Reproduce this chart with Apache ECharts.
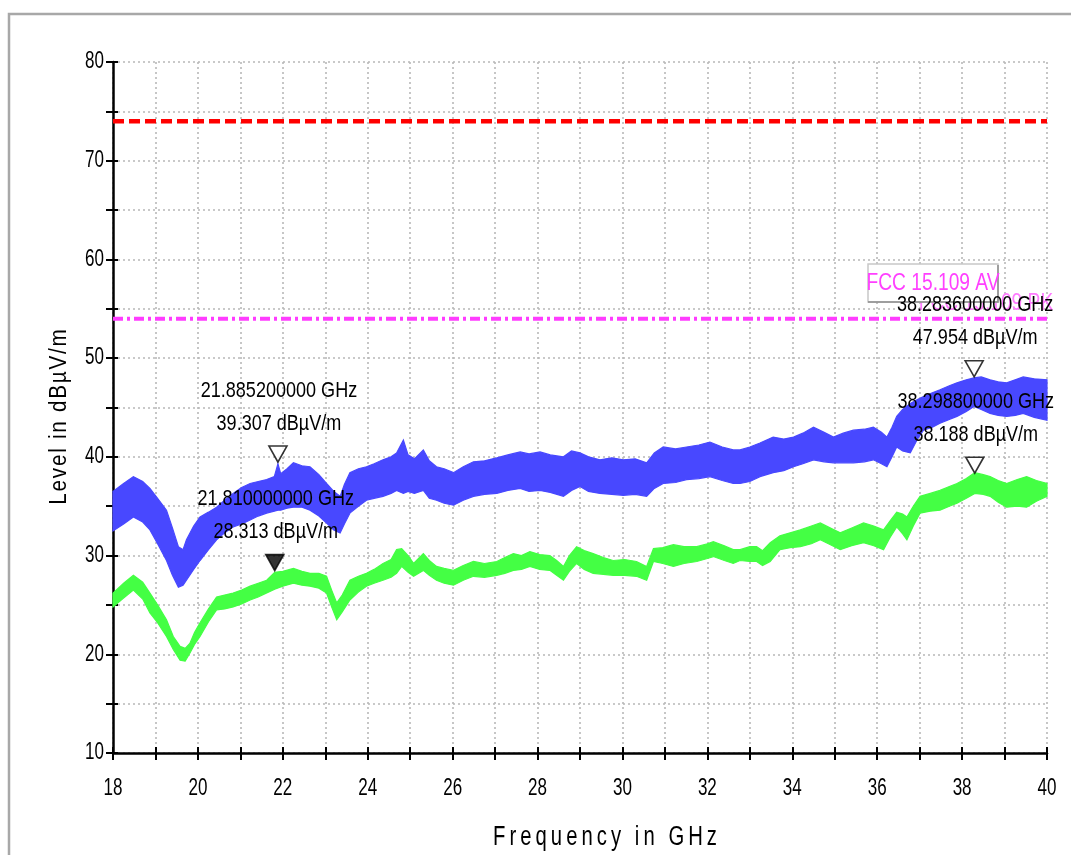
<!DOCTYPE html>
<html>
<head>
<meta charset="utf-8">
<script src="https://cdn.jsdelivr.net/npm/echarts@6/dist/echarts.min.js"></script>
<style>html,body{margin:0;padding:0;background:#fff;}#c{width:1071px;height:855px;}</style>
</head>
<body>
<div id="c"></div>
<script>
// ---- data ----
const blueFreq = [18.0,18.25,18.48,18.7,18.87,19.05,19.26,19.4,19.54,19.65,19.73,19.9,20.05,20.25,20.44,20.63,20.83,21.03,21.23,21.42,21.62,21.8,21.885,21.95,22.1,22.25,22.45,22.64,22.85,23.03,23.2,23.35,23.45,23.58,23.78,23.97,24.15,24.36,24.55,24.68,24.84,24.95,25.1,25.31,25.45,25.62,25.8,26.02,26.25,26.49,26.75,27.04,27.3,27.59,27.8,28.06,28.3,28.61,28.8,29.0,29.2,29.47,29.75,30.02,30.3,30.57,30.75,30.96,31.25,31.51,31.8,32.06,32.35,32.61,32.77,33.0,33.24,33.55,33.8,34.03,34.25,34.5,34.75,34.97,35.2,35.44,35.7,35.91,36.1,36.23,36.35,36.46,36.6,36.78,36.95,37.09,37.3,37.48,37.7,37.88,38.1,38.28,38.45,38.66,38.85,39.05,39.25,39.44,39.7,40.0];
const blueHigh = [36.5,37.3,38.0,37.5,36.8,35.8,34.6,32.8,30.9,30.6,31.6,33.0,33.9,34.4,34.9,35.6,36.3,36.9,37.3,37.5,37.7,38.0,39.3,38.3,38.8,39.4,39.1,39.0,38.2,37.3,36.5,36.0,37.2,38.4,38.8,39.0,39.3,39.7,40.0,40.4,41.7,40.2,39.8,40.7,39.6,39.0,38.8,38.4,39.0,39.5,39.6,39.9,40.2,40.5,40.3,40.5,40.2,40.0,40.6,40.4,40.0,39.7,39.9,39.7,39.8,39.4,40.4,41.0,40.8,41.0,41.2,41.5,41.0,40.7,40.7,41.0,41.4,42.0,41.8,42.0,42.4,43.0,42.5,42.0,42.4,42.7,42.8,43.0,42.5,42.0,43.0,44.1,44.8,45.4,45.8,46.1,46.5,46.8,47.2,47.5,47.8,48.0,48.1,47.8,47.6,47.5,47.8,48.1,47.9,47.8];
const blueLow = [32.5,33.2,33.9,33.4,32.6,31.2,29.5,28.0,26.8,27.0,27.5,28.6,29.5,30.6,31.6,32.3,32.9,33.2,33.6,34.0,34.3,34.5,34.6,34.6,34.8,34.9,34.9,34.6,34.0,33.3,32.6,32.3,33.2,34.3,35.0,35.6,35.8,36.0,36.3,36.6,36.3,36.5,36.3,36.6,35.8,35.6,35.3,35.1,35.6,36.0,36.2,36.3,36.6,36.8,36.5,36.6,36.4,36.0,36.6,37.0,36.5,36.3,36.2,36.1,36.2,36.0,36.8,37.3,37.4,37.7,37.8,38.0,37.6,37.3,37.3,37.5,38.0,38.4,38.6,39.0,39.3,39.7,39.5,39.4,39.4,39.4,39.5,39.7,39.3,39.0,40.0,41.0,40.6,40.4,41.8,42.7,43.0,43.4,43.8,44.1,44.6,45.1,44.8,44.4,44.2,44.1,44.2,44.4,44.0,43.7];

const greenFreq = [18.0,18.25,18.48,18.7,18.87,19.05,19.26,19.42,19.58,19.7,19.81,19.92,20.05,20.25,20.44,20.63,20.83,21.03,21.23,21.42,21.62,21.81,22.0,22.25,22.45,22.64,22.85,23.03,23.15,23.27,23.4,23.58,23.78,23.97,24.15,24.36,24.55,24.68,24.8,24.95,25.08,25.31,25.45,25.62,25.8,26.02,26.25,26.49,26.75,27.04,27.23,27.43,27.62,27.82,28.05,28.29,28.45,28.61,28.75,28.92,29.1,29.31,29.55,29.78,30.05,30.33,30.57,30.73,30.95,31.2,31.45,31.75,32.0,32.14,32.4,32.61,32.77,33.0,33.16,33.3,33.48,33.71,33.95,34.19,34.45,34.66,34.9,35.13,35.4,35.68,35.92,36.15,36.3,36.46,36.6,36.7,36.85,37.01,37.25,37.48,37.7,37.88,38.1,38.3,38.5,38.66,38.85,39.05,39.3,39.52,39.75,40.0];
const greenHigh = [26.2,27.2,28.0,27.3,26.2,25.0,23.5,21.8,20.8,20.6,21.1,22.2,23.2,24.6,25.8,26.0,26.2,26.5,26.9,27.2,27.5,28.3,28.4,28.7,28.4,28.2,28.2,27.9,26.5,25.2,26.0,27.5,27.9,28.2,28.6,29.2,29.6,30.6,30.7,30.0,29.2,30.2,29.5,28.9,28.7,28.5,29.0,29.4,29.2,29.4,29.8,30.2,30.0,30.4,30.1,30.0,29.5,28.9,30.0,30.9,30.5,30.2,29.8,29.5,29.6,29.4,28.9,30.7,30.8,31.1,30.9,30.9,31.2,31.4,31.0,30.6,30.6,30.9,30.9,30.5,31.3,32.0,32.3,32.6,33.0,33.3,32.8,32.3,32.8,33.3,33.0,32.6,33.5,34.4,34.2,33.9,35.0,36.0,36.3,36.6,37.0,37.3,37.8,38.4,38.2,38.0,37.6,37.3,37.7,38.0,37.6,37.3];
const greenLow = [24.8,25.7,26.5,25.6,24.2,23.2,21.8,20.5,19.4,19.3,20.1,21.0,21.8,23.3,24.5,24.6,24.8,25.1,25.5,25.8,26.2,26.6,26.9,27.2,27.0,26.9,26.7,26.2,24.8,23.5,24.3,25.5,26.3,26.9,27.2,27.5,27.8,28.2,28.9,28.3,27.9,28.5,28.0,27.5,27.2,27.0,27.5,27.9,27.8,28.0,28.2,28.5,28.6,28.9,28.6,28.5,28.0,27.5,28.4,29.2,28.6,28.2,28.1,28.0,28.0,27.9,27.5,29.4,29.2,28.9,29.2,29.4,29.7,29.9,29.5,29.2,29.5,29.4,29.4,29.0,29.4,30.6,30.8,30.9,31.2,31.6,31.1,30.6,31.0,31.3,31.0,30.6,31.8,32.9,32.2,31.6,33.0,34.3,34.5,34.6,35.0,35.3,35.8,36.3,36.2,36.0,35.4,34.9,35.0,34.9,35.5,36.0];

const limitPK = 74;   // FCC 15.109 PK
const limitAV = 54;   // FCC 15.109 AV
const limitFreq = [18, 40];

const markerFreq   = [21.8852, 21.81, 38.2836, 38.2988];
const markerLevel  = [39.307, 28.313, 47.954, 38.188];
const markerFilled = [false, true, false, false];
const markerText1  = ['21.885200000 GHz', '21.810000000 GHz', '38.283600000 GHz', '38.298800000 GHz'];
const markerText2  = ['39.307 dBµV/m', '28.313 dBµV/m', '47.954 dBµV/m', '38.188 dBµV/m'];

const xTicks = [18,20,22,24,26,28,30,32,34,36,38,40];
const yTicks = [10,20,30,40,50,60,70,80];
const xTitle = 'Frequency in GHz';
const yTitle = 'Level in dBµV/m';

// ---- chart ----
const FONT = '"Liberation Sans",Arial,sans-serif';
const chart = echarts.init(document.getElementById('c'), null, {renderer: 'canvas'});

function band(name, f, hi, lo, color) {
  return {
    type: 'custom', name: name, coordinateSystem: 'cartesian2d', silent: true, z: 2,
    data: f.map((x, i) => [x, hi[i], lo[i]]),
    encode: {x: 0, y: [1, 2]},
    renderItem: function (params, api) {
      if (params.dataIndex !== 0) return null;
      const pts = [];
      for (let i = 0; i < f.length; i++) pts.push(api.coord([f[i], hi[i]]));
      for (let i = f.length - 1; i >= 0; i--) pts.push(api.coord([f[i], lo[i]]));
      return {type: 'polygon', shape: {points: pts}, style: {fill: color, stroke: color, lineWidth: 1.2}};
    }
  };
}

function spaced(s, sep) { return s.split('').join(sep); }

const markerSeries = markerFreq.map((f, i) => ({
  type: 'scatter', z: 10, silent: true,
  data: [[f, markerLevel[i]]],
  symbol: 'triangle', symbolRotate: 180, symbolSize: [18, 16], symbolOffset: [0, '-60%'],
  itemStyle: {color: markerFilled[i] ? '#000' : '#fff', borderColor: '#000', borderWidth: 1.6}
}));

const option = {
  animation: false,
  backgroundColor: '#fff',
  grid: {left: 113, right: 24, top: 62, bottom: 102, containLabel: false},
  xAxis: [{
    type: 'value', min: 18, max: 40, interval: 1,
    axisLine: {show: true, onZero: false, lineStyle: {color: '#000', width: 2.5}},
    axisTick: {show: true, length: 7, lineStyle: {color: '#000', width: 2}},
    axisLabel: {show: false},
    splitLine: {show: true, lineStyle: {type: [2, 3], color: '#b8b8b8', width: 1.6}}
  }, {
    type: 'value', min: 18, max: 40, interval: 1, position: 'bottom',
    axisLine: {show: false}, axisLabel: {show: false}, splitLine: {show: false},
    axisTick: {show: true, inside: true, length: 6, lineStyle: {color: '#000', width: 2}}
  }],
  yAxis: [{
    type: 'value', min: 10, max: 80, interval: 5,
    axisLine: {show: true, onZero: false, lineStyle: {color: '#000', width: 2.5}},
    axisTick: {show: true, length: 7, lineStyle: {color: '#000', width: 2}},
    axisLabel: {show: false},
    splitLine: {show: true, lineStyle: {type: [2, 3], color: '#b8b8b8', width: 1.6}}
  }, {
    type: 'value', min: 10, max: 80, interval: 5, position: 'left',
    axisLine: {show: false}, axisLabel: {show: false}, splitLine: {show: false},
    axisTick: {show: true, inside: true, length: 5, lineStyle: {color: '#000', width: 2}}
  }],
  series: [
    band('Peak', blueFreq, blueHigh, blueLow, '#4848ff'),
    band('Average', greenFreq, greenHigh, greenLow, '#44ff44'),
    {type: 'line', name: 'FCC 15.109 PK', z: 3, silent: true, symbol: 'none',
     data: limitFreq.map(f => [f, limitPK]),
     lineStyle: {color: '#ff0000', width: 4.5, type: [11, 5]}},
    {type: 'line', name: 'FCC 15.109 AV', z: 3, silent: true, symbol: 'none',
     data: limitFreq.map(f => [f, limitAV]),
     lineStyle: {color: '#ff3cff', width: 4, type: [10, 4, 3, 4]}}
  ].concat(markerSeries)
};
chart.setOption(option);

// ---- texts placed through the chart's own scales ----
function px(x, y) { return chart.convertToPixel({gridIndex: 0}, [x, y]); }
function txt(x, y, s, opt) {
  return Object.assign({
    type: 'text', silent: true, x: x, y: y, z: 60, scaleX: opt.sx || 1,
    style: {text: s, fill: opt.color || '#000', font: (opt.size || 20) + 'px ' + FONT,
            align: opt.align || 'center', verticalAlign: 'middle'}
  }, opt.extra || {});
}
const g = [];
g.push({type: 'rect', z: -10, silent: true, shape: {x: 9, y: 14, width: 1100, height: 900},
        style: {fill: 'none', stroke: '#a8a8a8', lineWidth: 2.5}});
yTicks.forEach(v => { const p = px(18, v); g.push(txt(p[0] - 9, p[1], String(v), {size: 23, sx: 0.74, align: 'right'})); });
xTicks.forEach(v => { const p = px(v, 10); g.push(txt(p[0], p[1] + 36, String(v), {size: 23, sx: 0.74})); });
g.push(txt(605, 838, spaced(xTitle, '\u2009'), {size: 27, sx: 0.75}));
g.push(txt(60, 417, spaced(yTitle, '\u200A'), {size: 23, sx: 0.9, extra: {rotation: Math.PI / 2}}));
// limit line legend box
g.push(txt(986, 303, 'FCC 15.109 PK', {size: 24, sx: 0.8, color: '#ff7cff', extra: {z: 50}}));
g.push({type: 'rect', z: 51, silent: true, shape: {x: 868, y: 264, width: 130, height: 38},
        style: {fill: '#fff', stroke: '#c8c8c8', lineWidth: 1.5}});
g.push({type: 'polyline', z: 52, silent: true, shape: {points: [[998, 265], [998, 302], [868, 302]]},
        style: {stroke: '#8c8c8c', lineWidth: 1.5, fill: 'none'}});
g.push(txt(933, 283, 'FCC 15.109 AV', {size: 24, sx: 0.8, color: '#ff40ff', extra: {z: 53}}));
// marker annotations
markerFreq.forEach((f, i) => {
  const p = px(f, markerLevel[i]);
  g.push(txt(p[0] + 1, p[1] - 73, markerText1[i], {size: 22, sx: 0.82, extra: {z: 70}}));
  g.push(txt(p[0] + 1, p[1] - 40, markerText2[i], {size: 22, sx: 0.82, extra: {z: 70}}));
});
chart.setOption({graphic: g});
</script>
</body>
</html>
